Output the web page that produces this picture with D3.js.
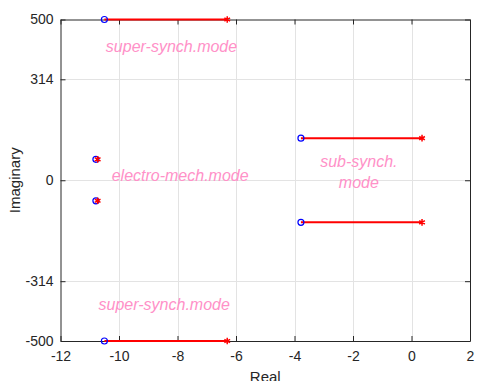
<!DOCTYPE html>
<html>
<head>
<meta charset="utf-8">
<script src="https://cdn.jsdelivr.net/npm/d3@7"></script>
<style>
  body { margin: 0; background: #fff; }
  text { font-family: "Liberation Sans", Arial, sans-serif; }
</style>
</head>
<body>
<div id="chart"></div>
<script>
// root locus branches: start (o) -> end (*)
var startRe = [-10.5, -10.5, -3.78, -3.78, -10.79, -10.79];
var startIm = [500, -500, 131, -131, 65, -64];
var endRe   = [-6.3, -6.3, 0.36, 0.36, -10.73, -10.73];
var endIm   = [500, -500, 131, -131, 65, -64];

var xTicks = [-12, -10, -8, -6, -4, -2, 0, 2];
var yTicks = [-500, -314, 0, 314, 500];

// mode annotations
var noteText = ["super-synch.mode", "electro-mech.mode", "sub-synch.", "mode", "super-synch.mode"];
var noteRe   = [-10.45, -10.25, -1.8, -1.8, -10.7];
var noteIm   = [415, 16, 58, -7, -385];
var noteAnchor = ["start", "start", "middle", "middle", "start"];

var w = 482, h = 381;
var pLeft = 60.5, pRight = 470, pTop = 19.5, pBottom = 341;

var x = d3.scaleLinear().domain([-12, 2]).range([pLeft, pRight]);
var y = d3.scaleLinear().domain([-500, 500]).range([pBottom, pTop]);
var fmt = d => String(d);

var svg = d3.select("#chart").append("svg")
  .attr("width", w).attr("height", h);

// grid
svg.append("g").selectAll("line")
  .data(xTicks.slice(1, -1))
  .enter().append("line")
  .attr("x1", d => Math.round(x(d)) + 0.5).attr("x2", d => Math.round(x(d)) + 0.5)
  .attr("y1", pTop).attr("y2", pBottom)
  .attr("stroke", "#e3e3e3").attr("stroke-width", 1);
svg.append("g").selectAll("line")
  .data(yTicks.slice(1, -1))
  .enter().append("line")
  .attr("y1", d => Math.round(y(d)) + 0.5).attr("y2", d => Math.round(y(d)) + 0.5)
  .attr("x1", pLeft).attr("x2", pRight)
  .attr("stroke", "#e3e3e3").attr("stroke-width", 1);

// axes
function styleAxis(g) {
  g.select(".domain").attr("stroke", "#262626");
  g.selectAll(".tick line").attr("stroke", "#262626");
  g.selectAll(".tick text").attr("fill", "#262626").style("font-size", "14px")
    .style("font-family", "'Liberation Sans', Arial, sans-serif");
}
svg.append("g").attr("transform", "translate(0," + pBottom + ")")
  .call(d3.axisBottom(x).tickValues(xTicks).tickFormat(fmt).tickSizeInner(-5).tickSizeOuter(0).tickPadding(10))
  .call(styleAxis);
svg.append("g").attr("transform", "translate(0," + pTop + ")")
  .call(d3.axisTop(x).tickValues(xTicks).tickSizeInner(-5).tickSizeOuter(0).tickFormat(""))
  .call(styleAxis);
svg.append("g").attr("transform", "translate(" + pLeft + ",0)")
  .call(d3.axisLeft(y).tickValues(yTicks).tickFormat(fmt).tickSizeInner(-5).tickSizeOuter(0).tickPadding(7))
  .call(styleAxis);
svg.append("g").attr("transform", "translate(" + pRight + ",0)")
  .call(d3.axisRight(y).tickValues(yTicks).tickSizeInner(-5).tickSizeOuter(0).tickFormat(""))
  .call(styleAxis);

// axis labels
svg.append("text").attr("x", (pLeft + pRight) / 2).attr("y", 382)
  .attr("text-anchor", "middle").attr("fill", "#262626")
  .style("font-size", "15px").text("Real");
svg.append("text").attr("transform", "translate(20," + ((pTop + pBottom) / 2) + ") rotate(-90)")
  .attr("text-anchor", "middle").attr("fill", "#262626")
  .style("font-size", "15px").text("Imaginary");

// branches
var idx = d3.range(startRe.length);
svg.append("g").selectAll("line")
  .data(idx).enter().append("line")
  .attr("x1", i => x(startRe[i])).attr("y1", i => y(startIm[i]))
  .attr("x2", i => x(endRe[i])).attr("y2", i => y(endIm[i]))
  .attr("stroke", "#ff0000").attr("stroke-width", 2);

svg.append("g").selectAll("circle")
  .data(idx).enter().append("circle")
  .attr("cx", i => x(startRe[i])).attr("cy", i => y(startIm[i]))
  .attr("r", 3).attr("fill", "none")
  .attr("stroke", "#0000ff").attr("stroke-width", 1.2);

svg.append("g").selectAll("path")
  .data(idx).enter().append("path")
  .attr("transform", i => "translate(" + x(endRe[i]) + "," + y(endIm[i]) + ")")
  .attr("d", d3.symbol(d3.symbolAsterisk, 30))
  .attr("fill", "none").attr("stroke", "#ff0000").attr("stroke-width", 1.5);

// annotations
svg.append("g").selectAll("text")
  .data(noteText).enter().append("text")
  .attr("x", (d, i) => x(noteRe[i])).attr("y", (d, i) => y(noteIm[i]))
  .attr("text-anchor", (d, i) => noteAnchor[i])
  .attr("dy", "0.35em")
  .attr("fill", "#ff91c8")
  .style("font-size", "16px").style("font-style", "italic")
  .text(d => d);
</script>
</body>
</html>
